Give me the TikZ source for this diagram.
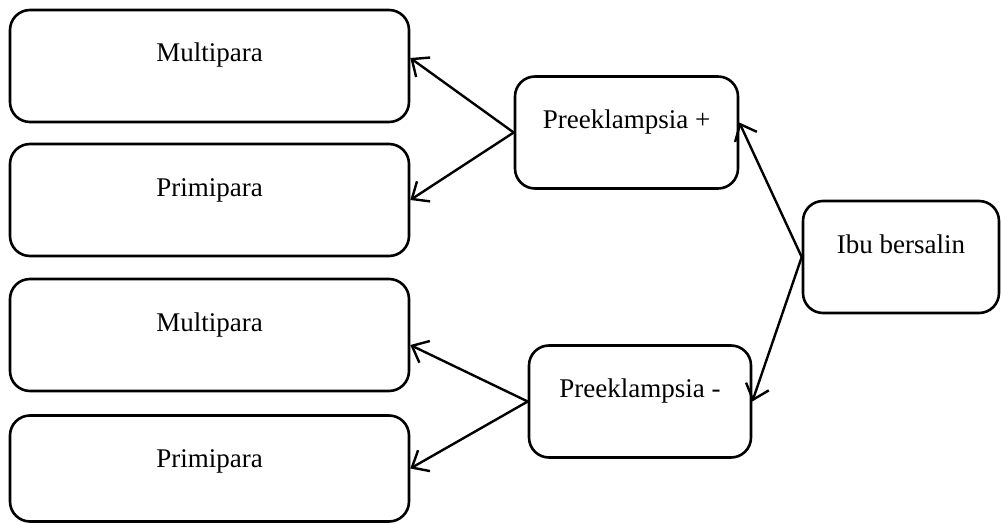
\documentclass[tikz,border=0pt]{standalone}
\usepackage{fontspec}
\setmainfont{Liberation Serif}
\usetikzlibrary{arrows.meta}
\tikzset{
  box/.style={draw, rounded corners=10pt, line width=1.3pt, inner sep=0pt,
    text height=26pt, text depth=30pt, font=\fontsize{13.5}{16}\selectfont},
  widebox/.style={box, minimum width=199.5pt},
}
\begin{document}
\begin{tikzpicture}[x=0.5pt, y=-0.5pt, >={Straight Barb[length=7pt,width=12pt]}]
      \useasboundingbox (0,0) rectangle (1001,524);
      \draw
        (209.5,66) node[widebox] (multiA){Multipara}
        (209.5,200) node[widebox] (primiA){Primipara}
        (209.5,335) node[widebox] (multiB){Multipara}
        (209.5,468.5) node[widebox, text depth=27pt] (primiB){Primipara}
        (626.5,132.5) node[box, minimum width=111.5pt] (preekPlus){Preeklampsia +}
        (640,401.5) node[box, minimum width=111pt] (preekMinus){Preeklampsia -}
        (901,257) node[box, minimum width=98pt] (ibu){Ibu bersalin};
      \begin{scope}[->, line width=1.2pt]
        \draw (ibu.west) to ([yshift=5pt]preekPlus.east);
        \draw (ibu.west) to (preekMinus.east);
        \draw (preekPlus.west) to ([yshift=4pt]multiA.east);
        \draw (preekPlus.west) to (primiA.east);
        \draw (preekMinus.west) to ([yshift=-5pt]multiB.east);
        \draw (preekMinus.west) to (primiB.east);
      \end{scope}
    \end{tikzpicture}
\end{document}
